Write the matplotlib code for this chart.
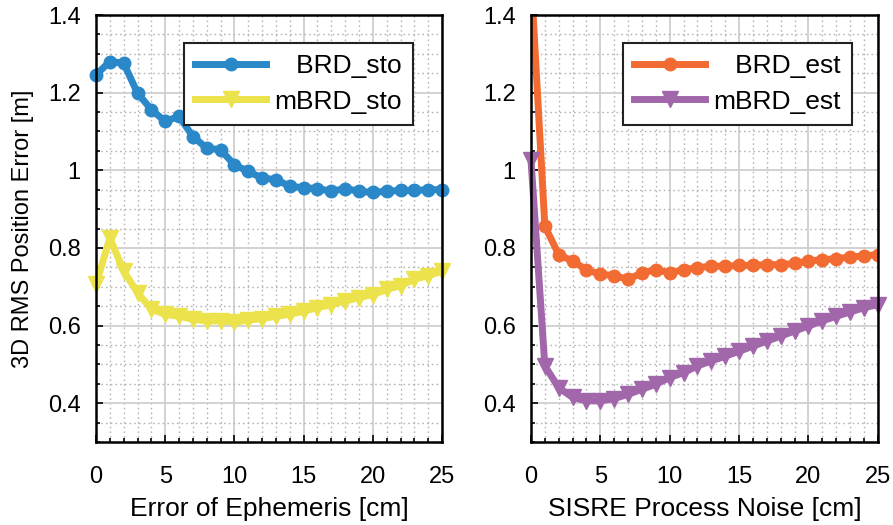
import numpy as np
import matplotlib
matplotlib.use("Agg")
import matplotlib.pyplot as plt
from matplotlib.ticker import MultipleLocator

plt.rcParams['font.family'] = ['Liberation Sans', 'DejaVu Sans']

# data
x = list(range(26))
brd_sto = [1.246, 1.28, 1.276, 1.199, 1.156, 1.126, 1.139, 1.087, 1.057, 1.053,
           1.014, 0.997, 0.98, 0.976, 0.959, 0.955, 0.953, 0.946, 0.953, 0.946,
           0.943, 0.946, 0.948, 0.948, 0.95, 0.95]
mbrd_sto = [0.706, 0.826, 0.74, 0.685, 0.642, 0.629, 0.624, 0.616, 0.612, 0.612,
            0.609, 0.614, 0.618, 0.624, 0.629, 0.637, 0.646, 0.654, 0.663, 0.672,
            0.68, 0.693, 0.703, 0.719, 0.729, 0.74]
brd_est = [1.5, 0.856, 0.783, 0.766, 0.744, 0.732, 0.729, 0.719, 0.736, 0.744,
           0.736, 0.744, 0.749, 0.753, 0.753, 0.755, 0.755, 0.757, 0.757, 0.76,
           0.766, 0.77, 0.772, 0.777, 0.779, 0.783]
mbrd_est = [1.027, 0.496, 0.44, 0.415, 0.406, 0.406, 0.412, 0.423, 0.436, 0.449,
            0.466, 0.479, 0.496, 0.509, 0.521, 0.534, 0.547, 0.56, 0.573, 0.586,
            0.599, 0.612, 0.624, 0.635, 0.646, 0.654]
yticks = [0.4, 0.6, 0.8, 1.0, 1.2, 1.4]
ytick_labels = ['0.4', '0.6', '0.8', '1', '1.2', '1.4']

c_blue = '#2a87c8'
c_yellow = '#ebe24c'
c_orange = '#f26b32'
c_purple = '#a167aa'

fig = plt.figure(figsize=(8.93, 5.25), dpi=100)
ax1 = fig.add_axes([0.1075, 0.158, 0.3875, 0.8134])
ax2 = fig.add_axes([0.5946, 0.158, 0.3884, 0.8134])

def style(ax, xlabel):
    ax.set_xlim(0, 25)
    ax.set_ylim(0.3, 1.4)
    ax.xaxis.set_major_locator(MultipleLocator(5))
    ax.xaxis.set_minor_locator(MultipleLocator(1))
    ax.yaxis.set_minor_locator(MultipleLocator(0.05))
    ax.set_yticks(yticks)
    ax.set_yticklabels(ytick_labels)
    ax.grid(which='major', color='#cfcfcf', lw=1.3, ls='-')
    ax.grid(which='minor', color='#b5b5b5', lw=1.0, ls=(0, (1.2, 2.2)))
    ax.set_axisbelow(True)
    ax.tick_params(which='both', direction='in', labelsize=17, width=1.2)
    ax.tick_params(which='major', length=5)
    ax.tick_params(which='minor', length=3)
    ax.tick_params(axis='x', pad=17)
    ax.tick_params(axis='y', pad=11)
    for s in ax.spines.values():
        s.set_linewidth(1.8)
    ax.set_xlabel(xlabel, fontsize=19, labelpad=7)

ax1.plot(x, brd_sto, '-o', color=c_blue, lw=5, ms=9, label='   BRD_sto', clip_on=False)
ax1.plot(x, mbrd_sto, '-v', color=c_yellow, lw=5, ms=11, label='mBRD_sto', clip_on=False)
style(ax1, 'Error of Ephemeris [cm]')
ax1.set_ylabel('3D RMS Position Error [m]', fontsize=17, labelpad=10)

ax2.plot(x, brd_est, '-o', color=c_orange, lw=5, ms=9, label='   BRD_est')
ax2.plot(x, mbrd_est, '-v', color=c_purple, lw=5, ms=11, label='mBRD_est', clip_on=False)
style(ax2, 'SISRE Process Noise [cm]')

for ax, bx in ((ax1, 0.916), (ax2, 0.925)):
    leg = ax.legend(loc='upper right', bbox_to_anchor=(bx, 0.935), fontsize=19,
                    numpoints=1, handlelength=2.7, fancybox=False, framealpha=1,
                    borderpad=0.42, labelspacing=0.45, handletextpad=0.3,
                    borderaxespad=0)
    leg.get_frame().set_edgecolor('#222222')
    leg.get_frame().set_linewidth(1.5)

fig.savefig('out.png', dpi=100)
